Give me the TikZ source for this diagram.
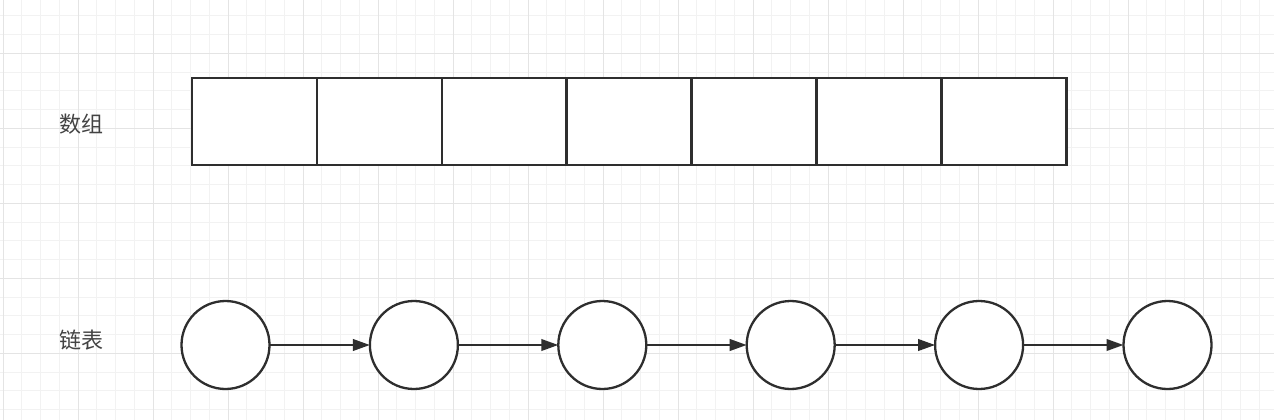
\documentclass[tikz,border=0pt]{standalone}
\usepackage{fontspec}
\newfontfamily\cjk{Noto Sans CJK SC}
\usetikzlibrary{positioning,arrows.meta}
\definecolor{ink}{HTML}{2E2E2E}
\definecolor{gridminor}{HTML}{F2F2F2}
\definecolor{gridmajor}{HTML}{E4E4E4}

\begin{document}
\begin{tikzpicture}[x=1pt, y=-1pt,
				cell/.style={rectangle, draw=ink, fill=white, line width=2.5pt, minimum width=124.9pt, minimum height=87pt, outer sep=0pt},
				item/.style={circle, draw=ink, fill=white, line width=2.3pt, minimum size=88pt, inner sep=0pt, outer sep=0pt},
				heading/.style={text=ink!90, font=\cjk\fontsize{22}{26}\selectfont},
				link/.style={draw=ink, line width=2.3pt, -{Triangle[length=17pt,width=11.5pt]}}
			]
			\useasboundingbox (0,0) rectangle (1274,420);
			% background grid
			\fill[white] (0,0) rectangle (1274,420);
			\foreach \i in {0,...,67} \draw[gridminor, line width=1pt] ({3+18.75*\i},0) -- ({3+18.75*\i},420);
			\foreach \i in {0,...,21} \draw[gridminor, line width=1pt] (0,{15.85+18.75*\i}) -- (1274,{15.85+18.75*\i});
			\foreach \i in {0,...,16} \draw[gridmajor, line width=1pt] ({3+75*\i},0) -- ({3+75*\i},420);
			\foreach \i in {1,...,5} \draw[gridmajor, line width=1pt] (0,{-21.7+75*\i}) -- (1274,{-21.7+75*\i});
			% array
			\node[heading] (arrname) at (81,124) {数组};
			\node[cell] (a1) at (254.45,121.5) {};
			\node[cell] (a2) [right=0pt of a1] {};
			\node[cell] (a3) [right=0pt of a2] {};
			\node[cell] (a4) [right=0pt of a3] {};
			\node[cell] (a5) [right=0pt of a4] {};
			\node[cell] (a6) [right=0pt of a5] {};
			\node[cell] (a7) [right=0pt of a6] {};
			% linked list
			\node[heading] (listname) at (81,340) {链表};
			\node[item] (n1) at (225.5,345) {};
			\node[item] (n2) [right=100.4pt of n1] {};
			\node[item] (n3) [right=100.4pt of n2] {};
			\node[item] (n4) [right=100.4pt of n3] {};
			\node[item] (n5) [right=100.4pt of n4] {};
			\node[item] (n6) [right=100.4pt of n5] {};
			\draw[link] (n1) -- (n2);
			\draw[link] (n2) -- (n3);
			\draw[link] (n3) -- (n4);
			\draw[link] (n4) -- (n5);
			\draw[link] (n5) -- (n6);
			\end{tikzpicture}
\end{document}
